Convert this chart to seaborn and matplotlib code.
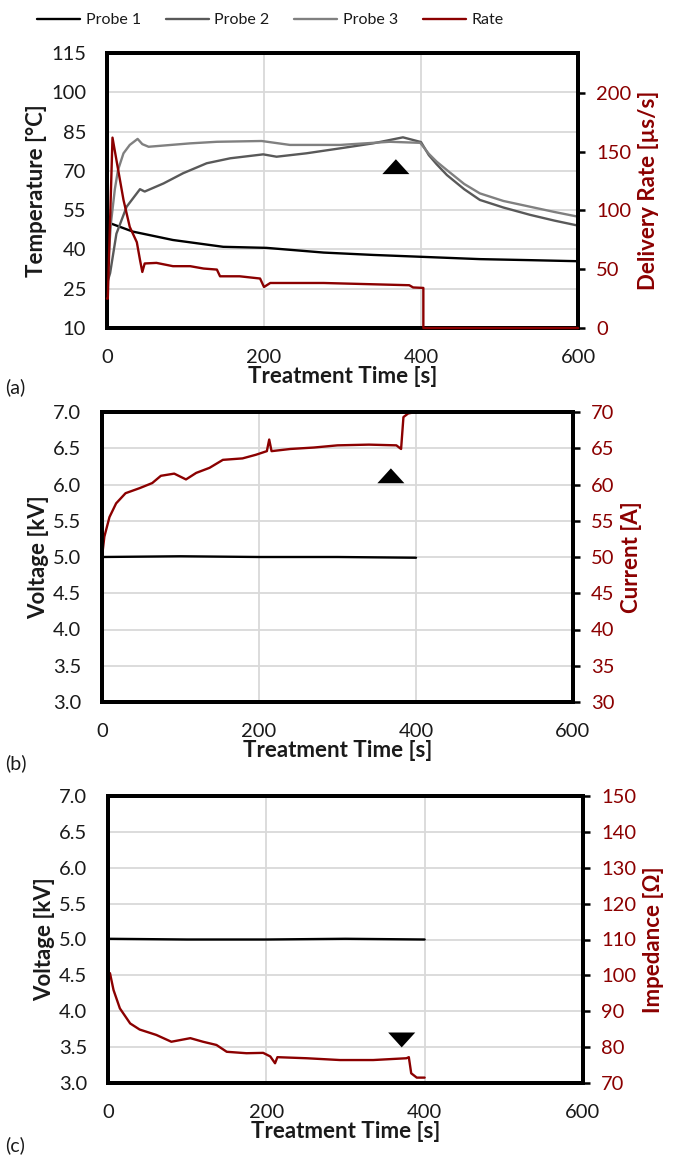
import matplotlib
matplotlib.use('Agg')
import matplotlib.pyplot as plt
import seaborn as sns

# ---- data ----
# (a) temperatures and delivery rate
t_p1 = [0, 4, 33, 84, 148, 203, 276, 339, 399, 475, 540, 600]
probe1 = [50.5, 50.0, 46.8, 43.6, 41.0, 40.6, 38.8, 37.9, 37.2, 36.3, 35.9, 35.5]

t_p2 = [0, 4, 12, 25, 42, 48, 72, 97, 127, 157, 199, 216, 254, 297, 339, 377,
        400, 410, 420, 433, 455, 475, 505, 539, 570, 600]
probe2 = [27, 31, 46, 56.3, 63.0, 62.1, 65.2, 69.1, 72.9, 74.8, 76.3, 75.4, 76.7,
          78.6, 80.5, 82.8, 81.0, 76.0, 72.5, 68.4, 63.0, 58.9, 56.0, 53.2, 51.0, 49.1]

t_p3 = [0, 5, 10, 14, 21, 29, 39, 45, 53, 106, 140, 197, 233, 297, 360, 399,
        410, 420, 433, 455, 475, 505, 539, 570, 600]
probe3 = [28, 50, 63, 70.3, 76.7, 79.9, 82.2, 80.2, 79.2, 80.5, 81.1, 81.4, 79.9,
          79.9, 81.1, 80.7, 76.5, 73.5, 70.3, 65.0, 61.4, 58.5, 56.3, 54.3, 52.5]

t_rate = [0, 1, 7, 12, 21, 29, 38, 42, 45, 48, 63, 84, 106, 123, 140, 144, 169,
          195, 200, 208, 276, 339, 385, 390, 403, 403, 600]
rate = [25, 25, 162, 143, 109, 86, 73, 58, 47.7, 54.9, 55.4, 52.6, 52.6, 50.6,
        49.7, 44.0, 44.0, 42.1, 34.9, 38.3, 38.3, 37.2, 36.4, 34.5, 34.1, 0, 0]

# (b) voltage and current
t_vb = [0, 100, 200, 300, 400]
volt_b = [5.0, 5.01, 5.0, 5.0, 4.99]
t_cur = [0, 3, 9.5, 18, 30, 48, 64, 75, 92, 107, 120, 137, 154, 179, 196, 210,
         213, 216, 240, 270, 300, 340, 375, 381, 384, 390, 400]
current = [50, 52.8, 55.5, 57.4, 58.8, 59.5, 60.2, 61.2, 61.5, 60.7, 61.6, 62.3,
           63.4, 63.6, 64.1, 64.6, 66.2, 64.6, 64.9, 65.1, 65.4, 65.5, 65.4,
           64.9, 69.3, 69.8, 70.0]

# (c) voltage and impedance
t_vc = [0, 100, 200, 300, 400]
volt_c = [5.01, 5.0, 5.0, 5.01, 5.0]
t_imp = [0, 2.5, 7, 15, 28, 40, 61, 80, 104, 120, 137, 150, 175, 196, 205, 211,
         214, 251, 293, 335, 377, 380, 383, 390, 400]
impedance = [100.8, 100.6, 95.9, 90.8, 86.6, 84.9, 83.4, 81.5, 82.5, 81.5, 80.6,
             78.7, 78.3, 78.4, 77.4, 75.5, 77.2, 76.9, 76.4, 76.4, 76.9, 77.2,
             72.7, 71.5, 71.5]

# arrow-head markers
mark_a = (368, 71.6)
mark_b = (368, 6.12)
mark_c = (371, 3.6)

RED = '#8b0000'
GRID = '#d9d9d9'
TXT = '#1a1a1a'

sns.set_theme(style="white")
plt.rcParams['font.family'] = ['Lato', 'DejaVu Sans']
plt.rcParams['axes.unicode_minus'] = False

fig = plt.figure(figsize=(6.83, 11.57), dpi=100)
H = 1157.0
W = 683.0


def box(l, r, t, b):
    return [l / W, 1 - b / H, (r - l) / W, (b - t) / H]


def style_axes(ax, ax2, yl, yticks, yr, yticks_r, ylab, ylab_r, fmt=None):
    ax.set_xlim(0, 600)
    ax.set_ylim(*yl)
    ax.set_yticks(yticks)
    if fmt:
        ax.set_yticklabels([fmt.format(v) for v in yticks])
    ax.set_xticks([0, 200, 400, 600])
    ax.grid(True, color=GRID, lw=1.3)
    ax.set_axisbelow(True)
    ax.tick_params(axis='both', length=0, labelsize=14.5, pad=15, colors=TXT)
    ax.set_xlabel('Treatment Time [s]', fontsize=16, fontweight='bold',
                  labelpad=0, color=TXT)
    ax.set_ylabel(ylab, fontsize=16, fontweight='bold', labelpad=3, color=TXT)
    ax2.set_ylim(*yr)
    ax2.set_yticks(yticks_r)
    ax2.tick_params(axis='y', length=5, width=1.8, direction='out', color='black',
                    labelcolor=RED, labelsize=14.5, pad=8)
    ax2.set_ylabel(ylab_r, fontsize=16, fontweight='bold', color=RED, labelpad=5)
    ax2.grid(False)
    for a in (ax, ax2):
        for s in a.spines.values():
            s.set_visible(True)
            s.set_color('black')
            s.set_linewidth(2.8)
    # secondary axis on top so its series can sit over the frame
    ax.set_zorder(0)
    ax2.set_zorder(1)
    ax2.patch.set_visible(False)


def tri(ax, xy, up=True):
    if up:
        verts = [(-1, -0.55), (1, -0.55), (0, 0.55), (-1, -0.55)]
    else:
        verts = [(-1, 0.55), (1, 0.55), (0, -0.55), (-1, 0.55)]
    ax.scatter([xy[0]], [xy[1]], marker=verts, s=380, color='black',
               edgecolors='none', zorder=6)


# ---------------- (a) ----------------
ax_a = fig.add_axes(box(107, 578, 53, 328))
ax_a2 = ax_a.twinx()
sns.lineplot(x=t_p1, y=probe1, ax=ax_a, color='black', lw=1.7, sort=False,
             estimator=None, legend=False)
sns.lineplot(x=t_p2, y=probe2, ax=ax_a, color='#595959', lw=1.7, sort=False,
             estimator=None, legend=False)
sns.lineplot(x=t_p3, y=probe3, ax=ax_a, color='#808080', lw=1.7, sort=False,
             estimator=None, legend=False)
sns.lineplot(x=t_rate, y=rate, ax=ax_a2, color=RED, lw=1.7, sort=False,
             estimator=None, legend=False)
for ln in ax_a2.lines:
    ln.set_clip_on(False)
    ln.set_zorder(5)
style_axes(ax_a, ax_a2, (10, 115), list(range(10, 116, 15)), (0, 234),
           [0, 50, 100, 150, 200], 'Temperature [°C]', 'Delivery Rate [µs/s]')
tri(ax_a2, (mark_a[0], ax_a2.transData.inverted().transform(
    ax_a.transData.transform(mark_a))[1]), up=True)

handles = ax_a.lines[:3] + ax_a2.lines[:1]
labels = ['Probe 1', 'Probe 2', 'Probe 3', 'Rate']
fig.legend(handles, labels, loc='center left', bbox_to_anchor=(37 / W, 1 - 20 / H),
           ncol=4, frameon=False, fontsize=11.5, handlelength=2.7,
           handletextpad=0.35, columnspacing=1.55, borderpad=0, borderaxespad=0,
           labelcolor=TXT)

# ---------------- (b) ----------------
ax_b = fig.add_axes(box(102, 573, 412, 702))
ax_b2 = ax_b.twinx()
sns.lineplot(x=t_vb, y=volt_b, ax=ax_b, color='black', lw=1.7, sort=False,
             estimator=None, legend=False)
sns.lineplot(x=t_cur, y=current, ax=ax_b2, color=RED, lw=1.7, sort=False,
             estimator=None, legend=False)
tri(ax_b, mark_b, up=True)
style_axes(ax_b, ax_b2, (3.0, 7.0), [3.0 + 0.5 * i for i in range(9)], (30, 70),
           list(range(30, 71, 5)), 'Voltage [kV]', 'Current [A]', fmt='{:.1f}')
ax_b2.lines[0].set_clip_on(False)

# ---------------- (c) ----------------
ax_c = fig.add_axes(box(108, 583, 796, 1083))
ax_c2 = ax_c.twinx()
sns.lineplot(x=t_vc, y=volt_c, ax=ax_c, color='black', lw=1.7, sort=False,
             estimator=None, legend=False)
sns.lineplot(x=t_imp, y=impedance, ax=ax_c2, color=RED, lw=1.7, sort=False,
             estimator=None, legend=False)
tri(ax_c, mark_c, up=False)
style_axes(ax_c, ax_c2, (3.0, 7.0), [3.0 + 0.5 * i for i in range(9)], (70, 150),
           list(range(70, 151, 10)), 'Voltage [kV]', 'Impedance [Ω]', fmt='{:.1f}')

# panel tags
for tag, y in [('(a)', 387), ('(b)', 763), ('(c)', 1145)]:
    fig.text(5 / W, 1 - y / H, tag, fontsize=14, va='center', ha='left', color=TXT)

fig.savefig('out.png', dpi=100)
